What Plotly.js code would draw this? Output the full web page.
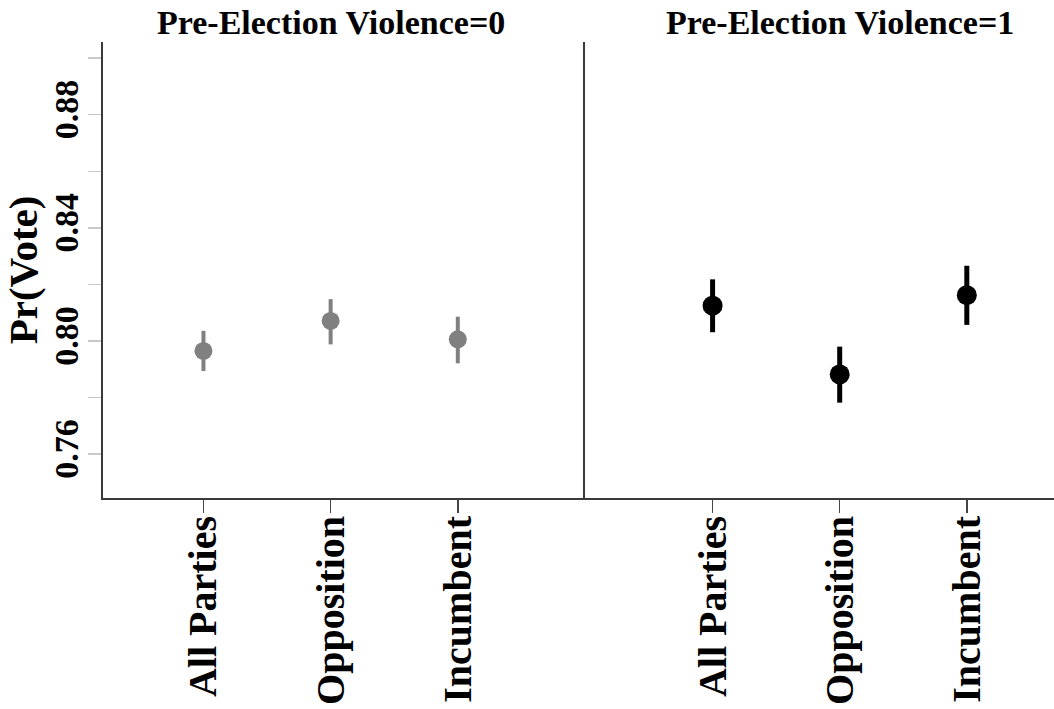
<!DOCTYPE html>
<html>
<head>
<meta charset="utf-8">
<script src="https://cdn.plot.ly/plotly-3.0.1.min.js"></script>
<style>html,body{margin:0;padding:0;background:#fff;}#chart{width:1054px;height:709px;}</style>
</head>
<body>
<div id="chart"></div>
<script>
// Data
const categories = ['All Parties', 'Opposition', 'Incumbent'];
const panelTitles = ['Pre-Election Violence=0', 'Pre-Election Violence=1'];
// Pre-Election Violence = 0
const meanV0 = [0.7965, 0.8071, 0.8006];
const lowV0  = [0.7894, 0.7988, 0.7921];
const highV0 = [0.8036, 0.8148, 0.8086];
// Pre-Election Violence = 1
const meanV1 = [0.8125, 0.7882, 0.8162];
const lowV1  = [0.8031, 0.7782, 0.8057];
const highV1 = [0.8218, 0.7980, 0.8266];
const yTickVals = [0.76, 0.80, 0.84, 0.88];
const yTickText = ['0.76', '0.80', '0.84', '0.88'];
const yMinorVals = [0.78, 0.82, 0.86, 0.90];

const FONT = 'Liberation Serif, Times New Roman, serif';

function pointTrace(mean, low, high, color, size, thick, xa, ya) {
  return {
    type: 'scatter', mode: 'markers',
    x: categories, y: mean,
    xaxis: xa, yaxis: ya,
    marker: {color: color, size: size},
    error_y: {
      type: 'data', symmetric: false,
      array: high.map((h, i) => h - mean[i]),
      arrayminus: low.map((l, i) => mean[i] - l),
      color: color, thickness: thick, width: 0
    },
    showlegend: false, hoverinfo: 'x+y'
  };
}

const data = [
  pointTrace(meanV0, lowV0, highV0, '#808080', 18, 4, 'x', 'y'),
  pointTrace(meanV1, lowV1, highV1, '#000000', 20, 5, 'x2', 'y2')
];

const yRange = [0.7445, 0.9057];
const xCommon = {
  type: 'category',
  showline: true, linecolor: '#3a3a3a', linewidth: 2,
  ticks: 'outside', ticklen: 13, tickwidth: 1.5, tickcolor: '#444',
  tickangle: -90,
  ticklabelstandoff: -13,
  tickfont: {family: FONT, size: 40, color: '#000', weight: 'bold'},
  showgrid: false, zeroline: false, fixedrange: true
};

const layout = {
  width: 1054, height: 709,
  margin: {l: 103, r: 0, t: 42, b: 211},
  paper_bgcolor: '#fff', plot_bgcolor: '#fff',
  showlegend: false,
  xaxis: Object.assign({}, xCommon, {domain: [0, 0.5068], range: [-0.79, 3.0], anchor: 'y'}),
  xaxis2: Object.assign({}, xCommon, {domain: [0.5068, 1], range: [-1.004, 2.686], anchor: 'y2'}),
  yaxis: {
    domain: [0, 1], range: yRange, anchor: 'x',
    tickvals: yTickVals, ticktext: yTickText,
    ticks: 'outside', ticklen: 13, tickwidth: 1.5, tickcolor: '#c8c8c8',
    minor: {tickvals: yMinorVals, ticks: 'outside', ticklen: 13, tickwidth: 1.5, tickcolor: '#c8c8c8'},
    tickangle: -90,
    ticklabelstandoff: -4,
    tickfont: {family: FONT, size: 34, color: '#000', weight: 'bold'},
    showline: true, linecolor: '#3a3a3a', linewidth: 2,
    showgrid: false, zeroline: false, fixedrange: true,
    title: {text: 'Pr(Vote)', font: {family: FONT, size: 41, color: '#000', weight: 'bold'}, standoff: 6}
  },
  yaxis2: {
    domain: [0, 1], range: yRange, anchor: 'x2', matches: 'y',
    showticklabels: false, ticks: '',
    showline: true, linecolor: '#3a3a3a', linewidth: 2,
    showgrid: false, zeroline: false, fixedrange: true
  },
  annotations: [
    {text: panelTitles[0], xref: 'x', yref: 'paper', x: categories[1], y: 1.043, yanchor: 'middle', xanchor: 'center', showarrow: false,
     font: {family: FONT, size: 34, color: '#000', weight: 'bold'}},
    {text: panelTitles[1], xref: 'x2', yref: 'paper', x: categories[1], y: 1.043, yanchor: 'middle', xanchor: 'center', showarrow: false,
     font: {family: FONT, size: 34, color: '#000', weight: 'bold'}}
  ]
};

Plotly.newPlot('chart', data, layout, {displayModeBar: false, staticPlot: true});
</script>
</body>
</html>
